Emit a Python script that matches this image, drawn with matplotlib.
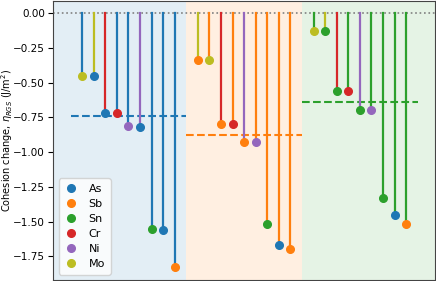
import numpy as np
import matplotlib.pyplot as plt

elements = ['As', 'Sb', 'Sn', 'Cr', 'Ni', 'Mo']
colors = {'As': 'tab:blue', 'Sb': 'tab:orange', 'Sn': 'tab:green',
          'Cr': 'tab:red', 'Ni': 'tab:purple', 'Mo': 'tab:olive'}

# stem colour (first) and marker colour (second) for each stem, per host
pairs_as = [('As', 'Mo'), ('Mo', 'As'), ('Cr', 'As'), ('As', 'Cr'), ('As', 'Ni'),
            ('Ni', 'As'), ('As', 'Sn'), ('As', 'As'), ('As', 'Sb')]
vals_as = [-0.45, -0.45, -0.72, -0.72, -0.81, -0.82, -1.55, -1.56, -1.83]
pairs_sb = [('Mo', 'Sb'), ('Sb', 'Mo'), ('Cr', 'Sb'), ('Sb', 'Cr'), ('Ni', 'Sb'),
            ('Sb', 'Ni'), ('Sb', 'Sn'), ('Sb', 'As'), ('Sb', 'Sb')]
vals_sb = [-0.34, -0.34, -0.80, -0.80, -0.93, -0.93, -1.52, -1.67, -1.70]
pairs_sn = [('Sn', 'Mo'), ('Mo', 'Sn'), ('Cr', 'Sn'), ('Sn', 'Cr'), ('Ni', 'Sn'),
            ('Sn', 'Ni'), ('Sn', 'Sn'), ('Sn', 'As'), ('Sn', 'Sb')]
vals_sn = [-0.13, -0.13, -0.56, -0.56, -0.70, -0.70, -1.33, -1.45, -1.52]

hosts = ['As', 'Sb', 'Sn']
means = [-0.74, -0.88, -0.64]
groups = [(pairs_as, vals_as), (pairs_sb, vals_sb), (pairs_sn, vals_sn)]

fig, ax = plt.subplots(figsize=(4.36, 2.81), dpi=100)
plt.rcParams['font.size'] = 8

spans = [(-2.5, 9), (9, 19), (19, 30.5)]
for g, (pairs, vals) in enumerate(groups):
    x0 = g * 10
    ax.axvspan(*spans[g], color=colors[hosts[g]], alpha=0.12, lw=0, zorder=0)
    for i, ((sc, mc), v) in enumerate(zip(pairs, vals)):
        x = x0 + i
        ax.plot([x, x], [0, v], color=colors[sc], lw=1.6, zorder=2)
        ax.plot(x, v, 'o', color=colors[mc], ms=5.5, zorder=3)
    ax.plot([x0 - 1, x0 + 9], [means[g], means[g]], '--', color=colors[hosts[g]],
            lw=1.5, zorder=1)

ax.axhline(0, color='gray', ls=':', lw=1.2, zorder=1)
for el in elements:
    ax.plot([], [], 'o', color=colors[el], ms=5.5, label=el)
ax.legend(loc='lower left', fontsize=8, handlelength=1.2, handletextpad=1.0,
          borderpad=0.5, labelspacing=0.45)

ax.set_xlim(-2.5, 30.5)
ax.set_ylim(-1.9215, 0.0915)
ax.set_yticks(np.arange(0, -1.76, -0.25))
ax.set_xticks([])
ax.tick_params(labelsize=7.5, pad=2.5)
for s in ax.spines.values():
    s.set_color('#444444')
ax.set_ylabel('Cohesion change, $\\eta_{RGS}$ (J/m$^2$)', fontsize=7.0)
ax.yaxis.set_label_coords(-0.099, 0.5)

fig.subplots_adjust(left=0.122, right=0.998, top=0.998, bottom=0.003)
fig.savefig('out.png', dpi=100)
